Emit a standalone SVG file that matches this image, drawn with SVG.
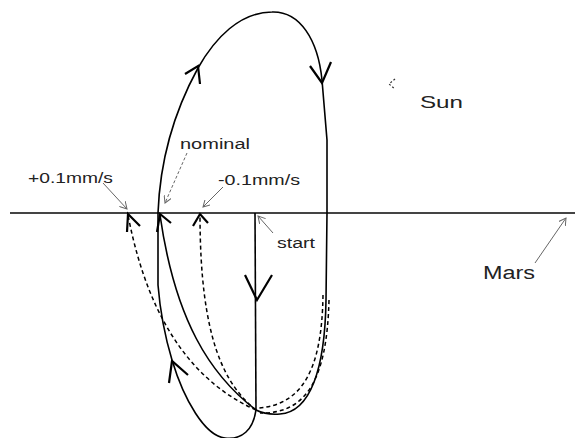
<svg xmlns="http://www.w3.org/2000/svg" width="575" height="438" viewBox="0 0 575 438">
<defs>
<marker id="ptr" markerWidth="8" markerHeight="8" refX="7" refY="4" orient="auto" markerUnits="userSpaceOnUse">
<path d="M0,0 L7,4 L0,8" fill="none" stroke="#666" stroke-width="1"/>
</marker>
</defs>
<style>
.lbl{font-family:"Liberation Sans",Arial,sans-serif;fill:#222}
.orb{fill:none;stroke:#000;stroke-width:1.6}
.dash{fill:none;stroke:#000;stroke-width:1.5;stroke-dasharray:4,3}
.head{fill:none;stroke:#000;stroke-width:2.2;stroke-linejoin:miter}
.ptr{fill:none;stroke:#666;stroke-width:1}
</style>
<rect width="575" height="438" fill="#fff"/>
<g id="axis">
<line x1="10" y1="213" x2="575" y2="213" stroke="#444" stroke-width="2"/>
</g>
<g id="connectors">
<path class="orb" d="M255,213 L256,410"/>
<path class="orb" d="M256,410 C253,430 242,440 225,438 C205,436 184,400 172,360 C166,340 160,310 158,285 L158,213"/>
<path class="orb" d="M158,213 C160,160 175,110 198,68 C215,38 240,12 272,12 C300,11 318,40 322,80 L327,140 L327,213 L326,300 C325,370 310,412 280,414 C268,415 260,412 256,410"/>
<path class="orb" d="M256,410 C210,375 175,320 160,215"/>
<path class="dash" d="M256,410 C200,385 150,330 128,215"/>
<path class="dash" d="M256,410 C225,385 200,340 200,215"/>
<path class="dash" d="M323,295 C322,370 302,405 258,408"/>
<path class="dash" d="M329,300 C327,380 306,414 260,413"/>
<path class="head" d="M245,275 L257,300 L272,275"/>
<path class="head" d="M310,66 L322,83 L331,62"/>
<path class="head" d="M185,74 L198,66 L200,84"/>
<path class="head" d="M169,383 L172,361 L188,375"/>
<path class="head" d="M127,232 L128,214 L140,226"/>
<path class="head" d="M157,232 L160,214 L171,223"/>
<path class="head" d="M193,226 L200,214 L208,223"/>
<path class="ptr" d="M103,183 L127,209" marker-end="url(#ptr)"/>
<path class="ptr" d="M187,153 L165,203" stroke-dasharray="3,2" marker-end="url(#ptr)"/>
<path class="ptr" d="M223,187 L203,207" marker-end="url(#ptr)"/>
<path class="ptr" d="M273,233 L258,216" marker-end="url(#ptr)"/>
<path class="ptr" d="M535,263 L566,218" marker-end="url(#ptr)"/>
<path d="M395,79 L389,84 L395,89" fill="none" stroke="#333" stroke-width="1.2" stroke-dasharray="2,2"/>
</g>
<g id="label-plus"><text class="lbl" x="28" y="183" font-size="15" textLength="85" lengthAdjust="spacingAndGlyphs">+0.1mm/s</text></g>
<g id="label-nominal"><text class="lbl" x="180" y="149" font-size="14" textLength="70" lengthAdjust="spacingAndGlyphs">nominal</text></g>
<g id="label-minus"><text class="lbl" x="218" y="185" font-size="14" textLength="82" lengthAdjust="spacingAndGlyphs">-0.1mm/s</text></g>
<g id="label-start"><text class="lbl" x="277" y="248" font-size="14" textLength="38" lengthAdjust="spacingAndGlyphs">start</text></g>
<g id="label-sun"><text class="lbl" x="420" y="108" font-size="17" textLength="43" lengthAdjust="spacingAndGlyphs">Sun</text></g>
<g id="label-mars"><text class="lbl" x="483" y="279" font-size="18" textLength="52" lengthAdjust="spacingAndGlyphs">Mars</text></g>
</svg>
